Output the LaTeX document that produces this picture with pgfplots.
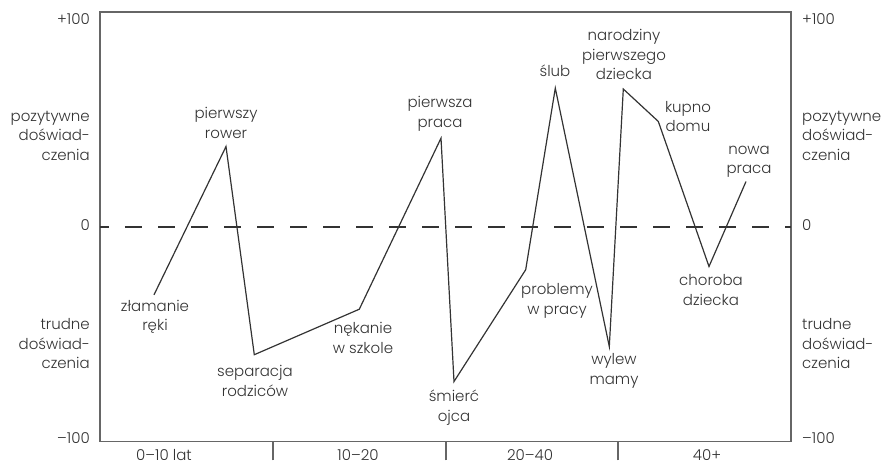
\documentclass[border=0pt]{standalone}
\usepackage{pgfplots}
\pgfplotsset{compat=1.18}
\usepackage{fontspec}
\setmainfont{Poppins}[UprightFont=* Light]
\definecolor{frame}{HTML}{666666}
\definecolor{ink}{HTML}{333333}
\tikzset{lbl/.style={align=center, inner sep=0pt, text=ink, font=\fontsize{15}{19.5}\selectfont}}
\begin{document}
\fontsize{15}{19.5}\selectfont
\begin{tikzpicture}
\useasboundingbox (-100pt,-22.6pt) rectangle (781pt,441.4pt);
\begin{axis}[
  at={(0,0)}, anchor=south west,
  scale only axis, width=691pt, height=429.2pt,
  xmin=100, xmax=791, ymin=-100, ymax=100,
  axis line style={frame, line width=1.6pt},
  xtick={273,446,618}, xticklabels={}, xtick pos=left,
  tick align=outside, major tick length=19pt,
  tick style={frame, line width=1.6pt},
  ytick=\empty,
  clip=false,
]
\addplot[ink, line width=1.5pt, dash pattern=on 17pt off 16pt, dash phase=8pt] coordinates {(100,0) (791,0)};
\addplot[ink, line width=1.2pt] coordinates {
  (154,-31.7) (226,37.4) (254.3,-59.6) (359.3,-38.4) (441,41.3) (454,-72.1)
  (525.7,-20.0) (555.3,64.6) (609.3,-55.8) (623.3,64.2) (658.3,49.1) (709,-18.5) (746,21.1)
};
% event labels
\node[lbl] at (axis cs:155,-41.9) {złamanie\\ręki};
\node[lbl] at (axis cs:226,48.5) {pierwszy\\rower};
\node[lbl] at (axis cs:255,-71.8) {separacja\\rodziców};
\node[lbl] at (axis cs:363,-51.7) {nękanie\\w szkole};
\node[lbl] at (axis cs:440,52.7) {pierwsza\\praca};
\node[lbl] at (axis cs:454,-84.3) {śmierć\\ojca};
\node[lbl] at (axis cs:557,-34.5) {problemy\\w pracy};
\node[lbl] at (axis cs:555,72.7) {ślub};
\node[lbl] at (axis cs:614,-67.1) {wylew\\mamy};
\node[lbl] at (axis cs:624,80.1) {narodziny\\pierwszego\\dziecka};
\node[lbl] at (axis cs:688,51.3) {kupno\\domu};
\node[lbl] at (axis cs:711,-29.4) {choroba\\dziecka};
\node[lbl] at (axis cs:749,30.3) {nowa\\praca};
% y labels left
\node[lbl, anchor=east] at (axis cs:90,96.9) {+100};
\node[lbl, anchor=east] at (axis cs:90,0.9) {0};
\node[lbl, anchor=east] at (axis cs:90,-98.3) {–100};
\node[lbl, anchor=east, align=right] at (axis cs:90,42.4) {pozytywne\\doświad-\\czenia};
\node[lbl, anchor=east, align=right] at (axis cs:90,-54.5) {trudne\\doświad-\\czenia};
% y labels right
\node[lbl, anchor=west] at (axis cs:802,96.9) {+100};
\node[lbl, anchor=west] at (axis cs:802,0.9) {0};
\node[lbl, anchor=west] at (axis cs:802,-98.3) {–100};
\node[lbl, anchor=west, align=left] at (axis cs:802,42.4) {pozytywne\\doświad-\\czenia};
\node[lbl, anchor=west, align=left] at (axis cs:802,-54.5) {trudne\\doświad-\\czenia};
% categories
\node[lbl] at (axis cs:164,-106.2) {0–10 lat};
\node[lbl] at (axis cs:358,-106.2) {10–20};
\node[lbl] at (axis cs:530,-106.2) {20–40};
\node[lbl] at (axis cs:707,-106.2) {40+};
\end{axis}
\end{tikzpicture}
\end{document}
